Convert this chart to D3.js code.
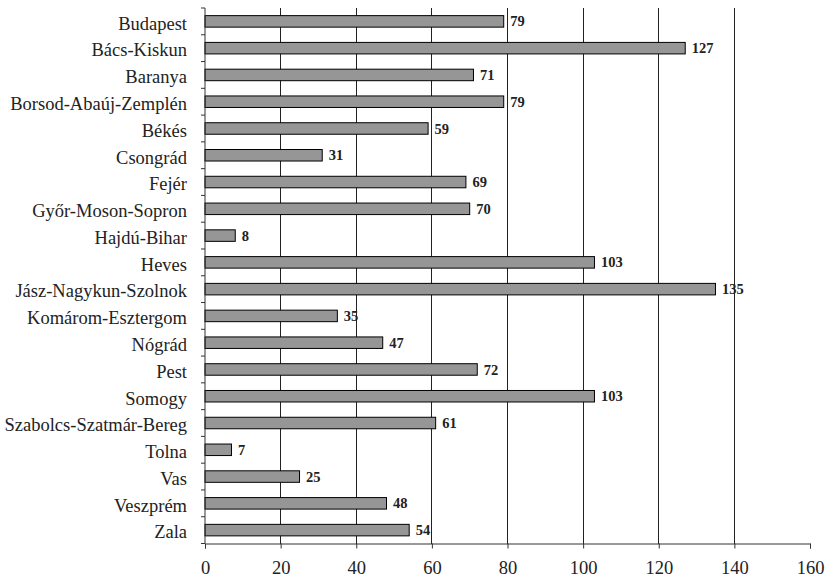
<!DOCTYPE html>
<html><head><meta charset="utf-8">
<script src="https://cdn.jsdelivr.net/npm/d3@7"></script>
<style>body{margin:0;background:#fff}</style>
</head><body>
<svg id="c" width="830" height="577" style="font-family:'Liberation Serif','Times New Roman',serif"></svg>
<script>
const categories = ["Budapest","Bács-Kiskun","Baranya","Borsod-Abaúj-Zemplén","Békés","Csongrád","Fejér","Győr-Moson-Sopron","Hajdú-Bihar","Heves","Jász-Nagykun-Szolnok","Komárom-Esztergom","Nógrád","Pest","Somogy","Szabolcs-Szatmár-Bereg","Tolna","Vas","Veszprém","Zala"];
const values = [79,127,71,79,59,31,69,70,8,103,135,35,47,72,103,61,7,25,48,54];
const xTicks = [0,20,40,60,80,100,120,140,160];

const FONT = "'Liberation Serif','Times New Roman',serif";
const svg = d3.select("#c");
const m = {left:205, right:810, top:8, bottom:543.5};
const x = d3.scaleLinear().domain([0,160]).range([m.left, m.right]);
const y = d3.scaleBand().domain(categories).range([m.top, m.bottom]).paddingInner(0.57).paddingOuter(0.285);

// gridlines
svg.append("g").selectAll("line").data(xTicks.filter(t=>t>0 && t<160)).join("line")
  .attr("x1",d=>x(d)).attr("x2",d=>x(d)).attr("y1",m.top).attr("y2",m.bottom)
  .attr("stroke","#222").attr("stroke-width",1).attr("shape-rendering","crispEdges");

// bars
svg.append("g").selectAll("rect").data(values).join("rect")
  .attr("x",x(0)).attr("y",(d,i)=>y(categories[i]))
  .attr("width",d=>x(d)-x(0)).attr("height",y.bandwidth())
  .attr("fill","#969696").attr("stroke","#000").attr("stroke-width",1);

// value labels
svg.append("g").selectAll("text").data(values).join("text")
  .attr("x",d=>x(d)+6.5).attr("y",(d,i)=>y(categories[i])+y.bandwidth()/2)
  .attr("dy","0.35em").attr("font-weight","bold").style("font-family",FONT)
  .attr("font-size",14.5).attr("fill","#222").text(d=>d);

// x axis
const xAxis = d3.axisBottom(x).tickValues(xTicks).tickSize(5).tickPadding(12).tickFormat(d3.format("d"));
const gx = svg.append("g").attr("transform",`translate(0,${m.bottom})`).call(xAxis);
gx.attr("font-family",null);
gx.select(".domain").attr("stroke","#333");
gx.selectAll(".tick line").attr("stroke","#333");
gx.selectAll("text").style("font-family",FONT).attr("font-size",18.5).attr("fill","#222");

// y axis: ticks at band boundaries
const bounds = d3.range(categories.length+1).map(i=>m.top + i*(m.bottom-m.top)/categories.length);
svg.append("line").attr("x1",m.left).attr("x2",m.left).attr("y1",m.top).attr("y2",m.bottom).attr("stroke","#333");
svg.append("g").selectAll("line").data(bounds).join("line")
  .attr("x1",m.left-4).attr("x2",m.left).attr("y1",d=>d).attr("y2",d=>d).attr("stroke","#333");
svg.append("g").selectAll("text").data(categories).join("text")
  .attr("x",m.left-18).attr("y",d=>y(d)+y.bandwidth()/2).attr("dy","0.45em")
  .attr("text-anchor","end").style("font-family",FONT).attr("font-size",18.5).attr("fill","#222")
  .text(d=>d);
</script>
</body></html>
